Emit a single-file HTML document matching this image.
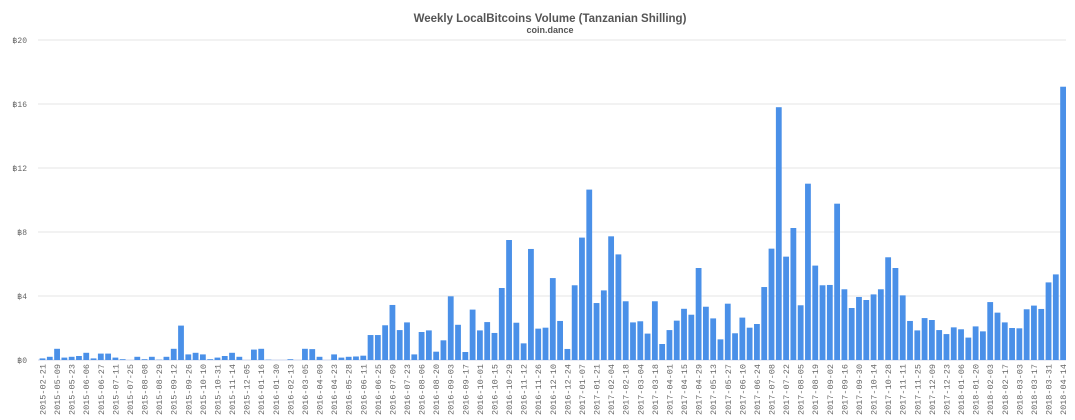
<!DOCTYPE html>
<html><head><meta charset="utf-8"><style>
html,body{margin:0;padding:0;background:#fff;width:1075px;height:420px;overflow:hidden}
</style></head><body>
<svg id="s" width="1075" height="420" xmlns="http://www.w3.org/2000/svg">
<text x="550" y="22" text-anchor="middle" font-family="Liberation Sans, sans-serif" font-weight="bold" font-size="11.5" fill="#555">Weekly LocalBitcoins Volume (Tanzanian Shilling)</text>
<text x="550" y="33" text-anchor="middle" font-family="Liberation Sans, sans-serif" font-weight="bold" font-size="9" fill="#555">coin.dance</text>
<g id="g"></g>
</svg>
<script>
var v=[0.1,0.2,0.7,0.15,0.2,0.25,0.45,0.1,0.4,0.4,0.15,0.05,0,0.2,0.05,0.2,0.02,0.2,0.7,2.15,0.35,0.45,0.35,0.05,0.15,0.25,0.45,0.2,0,0.65,0.7,0.02,0,0,0.05,0,0.7,0.68,0.2,0,0.35,0.15,0.2,0.22,0.27,1.56,1.56,2.17,3.44,1.87,2.35,0.35,1.75,1.85,0.52,1.23,3.98,2.2,0.5,3.15,1.85,2.37,1.69,4.5,7.5,2.33,1.04,6.94,1.96,2.02,5.12,2.44,0.69,4.67,7.65,10.65,3.56,4.35,7.73,6.6,3.67,2.35,2.42,1.65,3.67,1.0,1.87,2.46,3.2,2.83,5.75,3.33,2.6,1.29,3.52,1.67,2.65,2.02,2.25,4.56,6.96,15.8,6.46,8.25,3.42,11.02,5.9,4.67,4.69,9.77,4.42,3.25,3.94,3.75,4.1,4.42,6.42,5.75,4.04,2.44,1.85,2.62,2.5,1.87,1.62,2.04,1.92,1.4,2.1,1.79,3.62,2.96,2.35,2.0,1.98,3.17,3.4,3.19,4.85,5.35,17.08];
var L="2015-02-21,2015-05-09,2015-05-23,2015-06-06,2015-06-27,2015-07-11,2015-07-25,2015-08-08,2015-08-29,2015-09-12,2015-09-26,2015-10-10,2015-10-31,2015-11-14,2015-12-05,2016-01-16,2016-01-30,2016-02-13,2016-03-05,2016-04-09,2016-04-23,2016-05-28,2016-06-11,2016-06-25,2016-07-09,2016-07-23,2016-08-06,2016-08-20,2016-09-03,2016-09-17,2016-10-01,2016-10-15,2016-10-29,2016-11-12,2016-11-26,2016-12-10,2016-12-24,2017-01-07,2017-01-21,2017-02-04,2017-02-18,2017-03-04,2017-03-18,2017-04-01,2017-04-15,2017-04-29,2017-05-13,2017-05-27,2017-06-10,2017-06-24,2017-07-08,2017-07-22,2017-08-05,2017-08-19,2017-09-02,2017-09-16,2017-09-30,2017-10-14,2017-10-28,2017-11-11,2017-11-25,2017-12-09,2017-12-23,2018-01-06,2018-01-20,2018-02-03,2018-02-17,2018-03-03,2018-03-17,2018-03-31,2018-04-14".split(",");
var h='';
for(var k=0;k<=5;k++){var y=360-k*64;h+='<line x1="38" x2="1066" y1="'+y+'" y2="'+y+'" stroke="'+(k==0?'#ccd6eb':'#e6e6e6')+'" stroke-width="1"/>';
h+='<text x="27" y="'+(y+3)+'" text-anchor="end" font-family="Liberation Mono, monospace" font-size="8" fill="#666">฿'+(k*4)+'</text>';}
for(var i=0;i<v.length;i++){var cx=42.5+i*7.29;var bh=v[i]*16;
if(bh>0)h+='<rect x="'+(cx-2.9).toFixed(2)+'" y="'+(360-bh).toFixed(2)+'" width="5.8" height="'+bh.toFixed(2)+'" fill="#4a90e8"/>';
if(i%2==0){var lb=L[i/2];h+='<text transform="translate('+(cx+3).toFixed(2)+',364) rotate(-90)" text-anchor="end" font-family="Liberation Mono, monospace" font-size="8.5" fill="#666">'+lb+'</text>';}}
document.getElementById('g').innerHTML=h;
</script>
</body></html>
